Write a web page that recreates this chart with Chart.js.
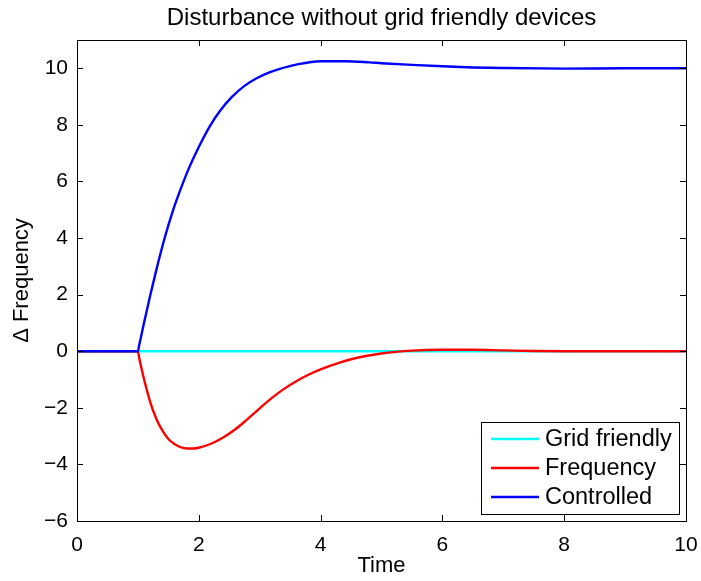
<!DOCTYPE html>
<html>
<head>
<meta charset="utf-8">
<script src="https://cdn.jsdelivr.net/npm/chart.js@4/dist/chart.umd.min.js"></script>
<style>
  html, body { margin: 0; padding: 0; background: #fff; }
  #wrap { width: 701px; height: 581px; }
</style>
</head>
<body>
<div id="wrap"><canvas id="grafico" width="701" height="581"></canvas></div>
<script>
// datos
const seriesNames = ['Grid friendly', 'Frequency', 'Controlled'];
const seriesColors = ['#00ffff', '#ff0000', '#0000ff'];

const gridTime = [0, 10];
const gridValues = [0, 0];

const freqTime = [0, 0.99, 1, 1.02, 1.05, 1.1, 1.2, 1.3, 1.4, 1.5, 1.6, 1.7, 1.8, 1.9, 2.0, 2.2, 2.4, 2.6, 2.8, 3.0, 3.2, 3.4, 3.6, 3.8, 4.0, 4.3, 4.6, 5.0, 5.5, 6.0, 6.5, 7.0, 7.5, 8.0, 10.0];
const freqValues = [0, 0, 0, -0.22, -0.52, -0.98, -1.78, -2.38, -2.8, -3.1, -3.28, -3.39, -3.44, -3.44, -3.41, -3.27, -3.05, -2.76, -2.4, -2.02, -1.65, -1.33, -1.06, -0.83, -0.64, -0.41, -0.23, -0.08, 0.02, 0.05, 0.05, 0.03, 0.01, 0.0, 0.0];

const ctrlTime = [0, 0.99, 1, 1.02, 1.1, 1.2, 1.3, 1.42, 1.5, 1.58, 1.7, 1.84, 2.0, 2.18, 2.35, 2.54, 2.75, 2.95, 3.15, 3.33, 3.6, 4.0, 4.4, 4.8, 5.0, 5.5, 6.0, 6.5, 7.0, 8.0, 9.0, 10.0];
const ctrlValues = [0, 0, 0, 0.2, 1.0, 1.95, 2.85, 3.85, 4.45, 5.0, 5.72, 6.48, 7.22, 7.95, 8.5, 8.98, 9.38, 9.65, 9.85, 9.98, 10.13, 10.25, 10.25, 10.21, 10.18, 10.12, 10.07, 10.03, 10.01, 9.99, 10.0, 10.0];

const xTicks = [0, 2, 4, 6, 8, 10];
const yTicks = [-6, -4, -2, 0, 2, 4, 6, 8, 10];

const toPoints = (xs, ys) => xs.map((x, i) => ({ x: x, y: ys[i] }));
const fuente = '"Liberation Sans", Arial, Helvetica, sans-serif';

// marco, ticks hacia adentro y leyenda tipo matlab
const marcoPlugin = {
  id: 'marco',
  afterDraw(chart) {
    const c = chart.ctx;
    const a = chart.chartArea;
    const xs = chart.scales.x, ys = chart.scales.y;
    c.save();
    c.strokeStyle = '#000';
    c.lineWidth = 1;
    c.beginPath();
    xTicks.forEach(t => {
      const px = Math.round(xs.getPixelForValue(t)) + 0.5;
      c.moveTo(px, a.bottom); c.lineTo(px, a.bottom - 6);
      c.moveTo(px, a.top); c.lineTo(px, a.top + 6);
    });
    yTicks.forEach(t => {
      const py = Math.round(ys.getPixelForValue(t)) + 0.5;
      c.moveTo(a.left, py); c.lineTo(a.left + 6, py);
      c.moveTo(a.right, py); c.lineTo(a.right - 6, py);
    });
    c.stroke();
    c.strokeRect(Math.round(a.left) + 0.5, Math.round(a.top) + 0.5, Math.round(a.right - a.left), Math.round(a.bottom - a.top));

    // leyenda
    const bx = a.right - 205, by = a.bottom - 99, bw = 198, bh = 92;
    c.fillStyle = '#fff';
    c.fillRect(bx, by, bw, bh);
    c.strokeRect(bx + 0.5, by + 0.5, bw, bh);
    c.font = '23.5px ' + fuente;
    c.textBaseline = 'middle';
    c.textAlign = 'left';
    seriesNames.forEach((name, i) => {
      const ry = by + 17 + i * 29;
      c.strokeStyle = seriesColors[i];
      c.lineWidth = 2.5;
      c.beginPath();
      c.moveTo(bx + 10, ry); c.lineTo(bx + 58, ry);
      c.stroke();
      c.fillStyle = '#000';
      c.fillText(name, bx + 64, ry + 1);
    });
    c.restore();
  }
};

const ctx = document.getElementById('grafico');
new Chart(ctx, {
  type: 'line',
  data: {
    datasets: [
      { label: seriesNames[0], data: toPoints(gridTime, gridValues), borderColor: seriesColors[0], order: 3 },
      { label: seriesNames[1], data: toPoints(freqTime, freqValues), borderColor: seriesColors[1], order: 2 },
      { label: seriesNames[2], data: toPoints(ctrlTime, ctrlValues), borderColor: seriesColors[2], order: 1 }
    ]
  },
  options: {
    responsive: false,
    animation: false,
    events: [],
    layout: { padding: { left: 0, right: 15, top: 0, bottom: 0 } },
    elements: {
      point: { radius: 0 },
      line: { borderWidth: 2.4, cubicInterpolationMode: 'monotone', fill: false }
    },
    plugins: {
      legend: { display: false },
      tooltip: { enabled: false },
      title: {
        display: true,
        fullSize: false,
        text: 'Disturbance without grid friendly devices',
        color: '#000',
        font: { family: fuente, size: 24, weight: 'normal', lineHeight: 1.2 },
        padding: { top: 4, bottom: 7.2 }
      }
    },
    scales: {
      x: {
        type: 'linear',
        min: 0, max: 10,
        afterBuildTicks: s => { s.ticks = xTicks.map(v => ({ value: v })); },
        afterFit: s => { s.height = 60; s.paddingLeft = 0; s.paddingRight = 0; },
        grid: { display: false, drawTicks: false },
        border: { display: false },
        ticks: { color: '#000', padding: 12, font: { family: fuente, size: 21 } },
        title: { display: true, text: 'Time', color: '#000', padding: { top: 2, bottom: 2 }, font: { family: fuente, size: 22 } }
      },
      y: {
        min: -6, max: 11,
        afterBuildTicks: s => { s.ticks = yTicks.map(v => ({ value: v })); },
        afterFit: s => { s.width = 77; s.paddingTop = 0; s.paddingBottom = 0; },
        grid: { display: false, drawTicks: false },
        border: { display: false },
        ticks: {
          color: '#000', padding: 9, font: { family: fuente, size: 21 },
          callback: v => String(v).replace('-', '\u2212')
        },
        title: { display: true, text: '\u0394 Frequency', color: '#000', padding: { top: 9, bottom: 0 }, font: { family: fuente, size: 22 } }
      }
    }
  },
  plugins: [marcoPlugin]
});
</script>
</body>
</html>
